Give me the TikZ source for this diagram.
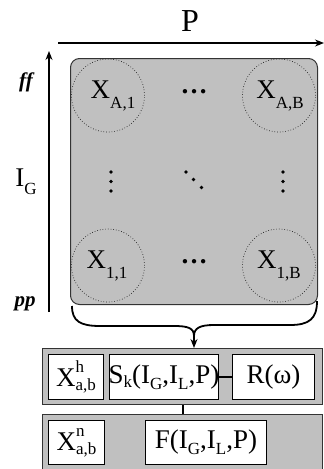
\documentclass[tikz,border=0pt]{standalone}
\usepackage{fontspec}
\setmainfont{Liberation Serif}
\usetikzlibrary{arrows.meta}
\definecolor{panel}{RGB}{192,192,192}
\newcommand\scr{\fontsize{17}{17}\selectfont}
\newcommand\lowsub[2][9.5pt]{\raisebox{-#1}{\scr #2}}
\newcommand\supsub[2]{\makebox[0pt][l]{\raisebox{14pt}{\scr #1}}\raisebox{-4pt}{\scr #2}}
\begin{document}
\begin{tikzpicture}[x=1pt,y=-1pt,
  lbl/.style={font=\fontsize{27}{30}\selectfont, inner sep=0pt},
  side/.style={font=\fontsize{21}{22}\selectfont\bfseries\itshape, inner sep=0pt},
  axis/.style={line width=1.2pt, -{Stealth[length=9pt,width=7pt]}},
  cellc/.style={circle, draw=black!85, dotted, line width=0.7pt, minimum size=73pt, inner sep=0pt},
  panelbox/.style={draw=black!80, fill=panel, line width=1pt, anchor=north west, inner sep=0pt},
  whitebox/.style={draw=black, fill=white, line width=1pt, anchor=north west, inner sep=0pt},
  dot/.style={circle, fill=black, inner sep=0pt, minimum size=3.8pt},
  link/.style={line width=1.2pt}]
\useasboundingbox (0,0) rectangle (324,469);

% axes
\coordinate (pstart) at (58,43);
\coordinate (pend) at (324,43);
\draw[axis] (pstart) -- (pend);
\node[lbl, font=\fontsize{32}{34}\selectfont] (plabel) at (190,21) {P};
\coordinate (vstart) at (49,312);
\coordinate (vend) at (49,51);
\draw[axis] (vstart) -- (vend);
\node[side] (ff) at (26,82) {ff};
\node[side] (pp) at (25,304) {pp};
\node[lbl] (ig) at (26,182) {I\lowsub[8pt]{G}};

% matrix panel
\node[panelbox, rounded corners=9pt, minimum width=247pt, minimum height=246pt] (mat) at (70,58) {};
\node[cellc] (cA1) at (108,95.5) {};
\node[cellc] (cAB) at (279,95.5) {};
\node[cellc] (c11) at (108,265.5) {};
\node[cellc] (c1B) at (279,265.5) {};
\node[lbl] (tA1) at (113,96) {X\lowsub{A,1}};
\node[lbl] (tAB) at (280,96) {X\lowsub{A,B}};
\node[lbl] (t11) at (107,266) {X\lowsub{1,1}};
\node[lbl] (t1B) at (279,266) {X\lowsub{1,B}};
\node[lbl, font=\fontsize{27}{30}\selectfont\bfseries] (hdots1) at (194,92) {…};
\node[lbl, font=\fontsize{27}{30}\selectfont\bfseries] (hdots2) at (194,262) {…};
% vertical and diagonal dots
\node[dot] (vl1) at (111,172) {};
\node[dot] (vl2) at (111,181.5) {};
\node[dot] (vl3) at (111,191) {};
\node[dot] (vr1) at (283,172) {};
\node[dot] (vr2) at (283,181.5) {};
\node[dot] (vr3) at (283,191) {};
\node[dot] (dd1) at (186,172) {};
\node[dot] (dd2) at (193.5,179.5) {};
\node[dot] (dd3) at (201.5,187.5) {};

% brace
\coordinate (bracetip) at (194,336);
\draw[line width=1.8pt] (72,306) .. controls (72,321) and (80,326) .. (100,326)
  -- (174,326) .. controls (188,326) and (194,328) .. (bracetip);
\draw[line width=1.8pt] (317,301) .. controls (317,319) and (309,325) .. (290,325)
  -- (214,325) .. controls (200,325) and (194,328) .. (bracetip);

% lower panels
\node[panelbox, minimum width=280pt, minimum height=56pt] (up) at (42,348) {};
\node[panelbox, minimum width=280pt, minimum height=60pt] (low) at (42,414) {};
\draw[line width=1.3pt, -{Stealth[length=9pt,width=7pt]}] (bracetip) -- (bracetip |- up.north);

\node[whitebox, minimum width=55pt, minimum height=45pt] (xh) at (48,354) {};
\node[lbl] at (xh.center) {X\supsub{h}{a,b}};
\node[whitebox, minimum width=109pt, minimum height=45pt] (sk) at (109,354) {};
\node[lbl] at (sk.center) {S\lowsub[4pt]{k}(I\lowsub[6pt]{G},I\lowsub[6pt]{L},P)};
\node[whitebox, minimum width=82pt, minimum height=45pt] (rw) at (232,354) {};
\node[lbl] at (rw.center) {R(ω)};
\draw[link] (sk.east) -- (rw.west);

\node[whitebox, minimum width=56pt, minimum height=44pt] (xn) at (48,420) {};
\node[lbl] at (xn.center) {X\supsub{n}{a,b}};
\node[whitebox, minimum width=121pt, minimum height=44pt] (fb) at (145,420) {};
\node[lbl] at (fb.center) {F(I\lowsub[6pt]{G},I\lowsub[6pt]{L},P)};
\draw[link] (up.south -| 183,0) -- (low.north -| 183,0);
\end{tikzpicture}
\end{document}
